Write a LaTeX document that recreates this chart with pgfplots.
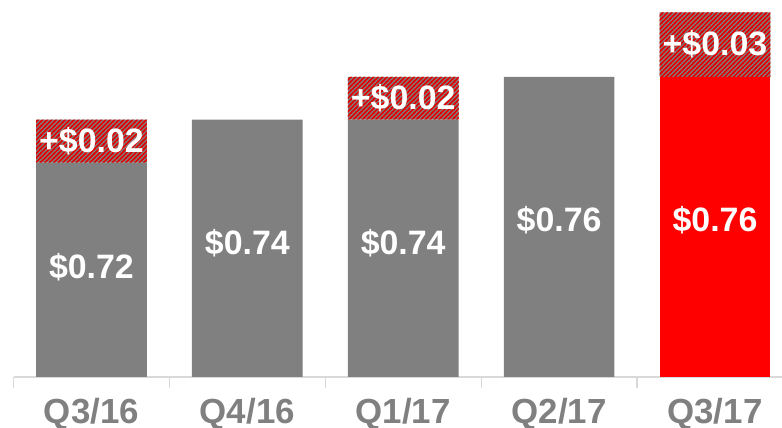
\documentclass[border=0pt]{standalone}
\usepackage{pgfplots}
\pgfplotsset{compat=1.18}
\usepackage{fontspec}
\setmainfont{Liberation Sans}
\usetikzlibrary{patterns}
\pgfdeclarepatternformonly{mystripes}{\pgfpoint{-1bp}{-1bp}}{\pgfpoint{5.5bp}{5.5bp}}{\pgfpoint{4.5bp}{4.5bp}}{%
  \pgfsetlinewidth{1.7bp}%
  \pgfpathmoveto{\pgfpoint{-1bp}{-1bp}}%
  \pgfpathlineto{\pgfpoint{5.5bp}{5.5bp}}%
  \pgfusepath{stroke}%
}
\definecolor{bargray}{HTML}{808080}
\definecolor{axgray}{HTML}{D9D9D9}
\definecolor{labgray}{HTML}{808080}
\definecolor{barred}{HTML}{FF0000}
\definecolor{hatchred}{HTML}{E00000}
\newcommand{\lblfont}{\fontsize{34}{34}\selectfont\bfseries}
\newcommand{\tickfont}{\fontsize{35}{35}\selectfont\bfseries}
\tikzset{lbl/.style={text=white, font=\lblfont, inner sep=0pt}}
\begin{document}
\begin{tikzpicture}
\path[use as bounding box] (0,0) rectangle (782bp,428bp);
\begin{axis}[
  at={(13.5bp,51bp)}, anchor=south west, scale only axis,
  width=768.5bp, height=377bp,
  ymin=0.62, ymax=0.7958, xmin=-0.5, xmax=4.43,
  ybar stacked, bar width=0.71,
  axis y line=none, axis x line*=bottom,
  x axis line style={axgray, line width=1.5bp, -},
  xtick={0,1,2,3,4}, xticklabels={Q3/16,Q4/16,Q1/17,Q2/17,Q3/17},
  major tick length=0pt,
  extra x ticks={-0.5,0.5,1.5,2.5,3.5}, extra x tick labels={},
  extra x tick style={major tick length=11bp, tick align=outside, tick style={axgray, line width=1.2bp}},
  xticklabel style={font=\tickfont, text=labgray, inner sep=0pt, anchor=north, yshift=-21bp},
]
\addplot[fill=bargray, draw=none] coordinates {(0,0.72) (1,0.74) (2,0.74) (3,0.76) (4,0)};
\addplot[fill=barred, draw=none] coordinates {(0,0) (1,0) (2,0) (3,0) (4,0.76)};
\addplot[fill=bargray, draw=none, postaction={pattern=mystripes, pattern color=hatchred}] coordinates {(0,0.02) (1,0) (2,0.02) (3,0) (4,0.03)};
\coordinate (a1) at (axis cs:0,0.6713);
\coordinate (a2) at (axis cs:1,0.6825);
\coordinate (a3) at (axis cs:2,0.6825);
\coordinate (a4) at (axis cs:3,0.6932);
\coordinate (a5) at (axis cs:4,0.6932);
\coordinate (b1) at (axis cs:0,0.730);
\coordinate (b3) at (axis cs:2,0.750);
\coordinate (b5) at (axis cs:4,0.775);
\end{axis}
\node[lbl] at (a1) {\$0.72};
\node[lbl] at (a2) {\$0.74};
\node[lbl] at (a3) {\$0.74};
\node[lbl] at (a4) {\$0.76};
\node[lbl] at (a5) {\$0.76};
\node[lbl] at (b1) {+\$0.02};
\node[lbl] at (b3) {+\$0.02};
\node[lbl] at (b5) {+\$0.03};
\end{tikzpicture}
\end{document}
